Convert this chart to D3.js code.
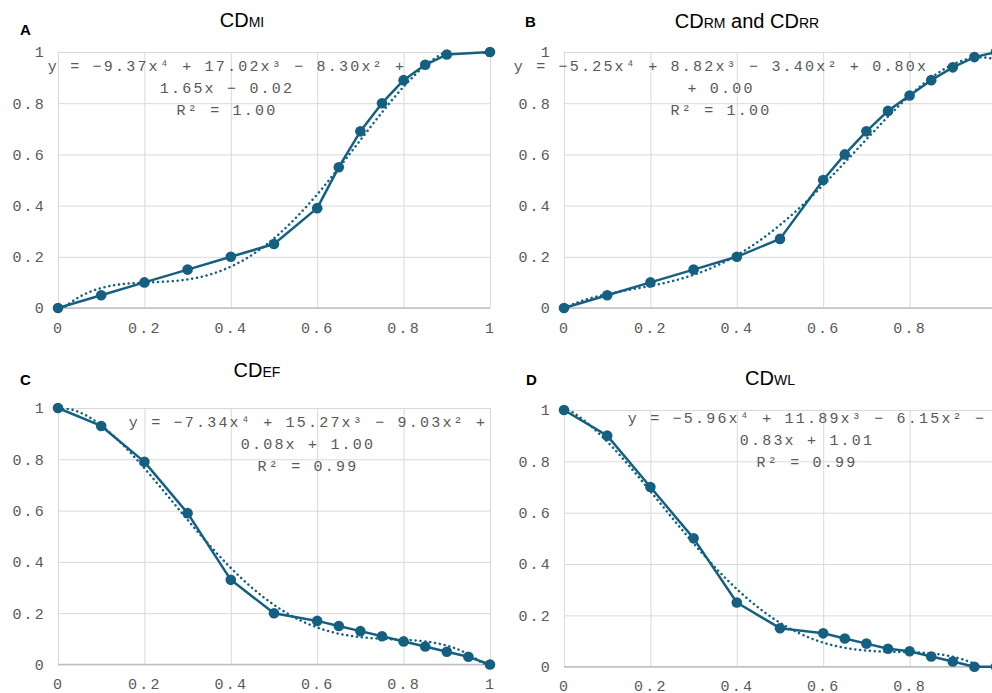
<!DOCTYPE html>
<html>
<head>
<meta charset="utf-8">
<script src="https://cdn.jsdelivr.net/npm/d3@7"></script>
<style>
    body { margin: 0; background: #fff; }
    svg { display: block; }
    .oznaka-osi { font-family: "Courier New", "Liberation Mono", monospace; font-size: 15px; letter-spacing: 2.2px; fill: #595959; }
    .jednadzba { font-family: "Courier New", "Liberation Mono", monospace; font-size: 15px; letter-spacing: 2.2px; fill: #595959; }
    .naslov { font-family: Arial, "Liberation Sans", sans-serif; font-size: 20px; fill: #000; }
    .slovo { font-family: Arial, "Liberation Sans", sans-serif; font-size: 15px; font-weight: bold; fill: #000; }
</style>
</head>
<body>
<div id="grafovi"></div>
<script>
// Podaci
const xTicks = [0, 0.2, 0.4, 0.6, 0.8, 1];
const yTicks = [0, 0.2, 0.4, 0.6, 0.8, 1];

// A - CD_MI
const xMI = [0, 0.1, 0.2, 0.3, 0.4, 0.5, 0.6, 0.65, 0.7, 0.75, 0.8, 0.85, 0.9, 1];
const yMI = [0, 0.05, 0.10, 0.15, 0.20, 0.25, 0.39, 0.55, 0.69, 0.80, 0.89, 0.95, 0.99, 1];
const koefMI = [-0.02, 1.65, -8.30, 17.02, -9.37]; // x^0 ... x^4
const jednMI = ["y = −9.37x⁴ + 17.02x³ − 8.30x² +", "1.65x − 0.02", "R² = 1.00"];

// B - CD_RM i CD_RR
const xRM = [0, 0.1, 0.2, 0.3, 0.4, 0.5, 0.6, 0.65, 0.7, 0.75, 0.8, 0.85, 0.9, 0.95, 1];
const yRM = [0, 0.05, 0.10, 0.15, 0.20, 0.27, 0.50, 0.60, 0.69, 0.77, 0.83, 0.89, 0.94, 0.98, 1];
const koefRM = [0.00, 0.80, -3.40, 8.82, -5.25];
const jednRM = ["y = −5.25x⁴ + 8.82x³ − 3.40x² + 0.80x", "+ 0.00", "R² = 1.00"];

// C - CD_EF
const xEF = [0, 0.1, 0.2, 0.3, 0.4, 0.5, 0.6, 0.65, 0.7, 0.75, 0.8, 0.85, 0.9, 0.95, 1];
const yEF = [1, 0.93, 0.79, 0.59, 0.33, 0.20, 0.17, 0.15, 0.13, 0.11, 0.09, 0.07, 0.05, 0.03, 0];
const koefEF = [1.00, 0.08, -9.03, 15.27, -7.34];
const jednEF = ["y = −7.34x⁴ + 15.27x³ − 9.03x² +", "0.08x + 1.00", "R² = 0.99"];

// D - CD_WL
const xWL = [0, 0.1, 0.2, 0.3, 0.4, 0.5, 0.6, 0.65, 0.7, 0.75, 0.8, 0.85, 0.9, 0.95, 1];
const yWL = [1, 0.90, 0.70, 0.50, 0.25, 0.15, 0.13, 0.11, 0.09, 0.07, 0.06, 0.04, 0.02, 0, 0];
const koefWL = [1.01, -0.83, -6.15, 11.89, -5.96];
const jednWL = ["y = −5.96x⁴ + 11.89x³ − 6.15x² −", "0.83x + 1.01", "R² = 0.99"];

const boja = "#156082";

// Raspored panela
const paneli = [
    { slovo: "A", slovoX: 20, slovoY: 35, naslov: [["CD", false], ["MI", true]], naslovX: 242, naslovY: 27,
      x: xMI, y: yMI, koef: koefMI, jedn: jednMI, jednX: 227, jednY: 71,
      lijevo: 58, vrh: 52, sirina: 432, visina: 256 },
    { slovo: "B", slovoX: 525, slovoY: 27, naslov: [["CD", false], ["RM", true], [" and CD", false], ["RR", true]], naslovX: 747, naslovY: 28,
      x: xRM, y: yRM, koef: koefRM, jedn: jednRM, jednX: 721, jednY: 71,
      lijevo: 564, vrh: 52, sirina: 432, visina: 256 },
    { slovo: "C", slovoX: 20, slovoY: 385, naslov: [["CD", false], ["EF", true]], naslovX: 257, naslovY: 377,
      x: xEF, y: yEF, koef: koefEF, jedn: jednEF, jednX: 308, jednY: 427,
      lijevo: 58, vrh: 408, sirina: 432, visina: 256.5 },
    { slovo: "D", slovoX: 526, slovoY: 385, naslov: [["CD", false], ["WL", true]], naslovX: 770, naslovY: 385,
      x: xWL, y: yWL, koef: koefWL, jedn: jednWL, jednX: 807, jednY: 423,
      lijevo: 564, vrh: 410, sirina: 432, visina: 256.7 },
];

const okvir = d3.select("#grafovi")
    .append("svg")
    .attr("width", 992)
    .attr("height", 693);

const crtajPanel = (p, i) => {
    const xSkala = d3.scaleLinear().domain([0, 1]).range([p.lijevo, p.lijevo + p.sirina]);
    const ySkala = d3.scaleLinear().domain([0, 1]).range([p.vrh + p.visina, p.vrh]);
    const g = okvir.append("g");

    // mreza + oznake osi
    const yOs = g.append("g")
        .attr("transform", `translate(${p.lijevo},0)`)
        .call(d3.axisLeft(ySkala).tickValues(yTicks).tickSize(-p.sirina).tickPadding(12).tickFormat(d3.format("")));
    const xOs = g.append("g")
        .attr("transform", `translate(0,${p.vrh + p.visina})`)
        .call(d3.axisBottom(xSkala).tickValues(xTicks).tickSize(-p.visina).tickPadding(14).tickFormat(d3.format("")));
    [yOs, xOs].forEach(os => {
        os.select(".domain").remove();
        os.selectAll("line").attr("stroke", "#d9d9d9").attr("stroke-width", 1);
        os.selectAll("text").attr("class", "oznaka-osi").attr("fill", null);
        os.attr("font-family", null).attr("font-size", null);
    });
    g.append("line")
        .attr("x1", p.lijevo).attr("x2", p.lijevo + p.sirina)
        .attr("y1", p.vrh + p.visina).attr("y2", p.vrh + p.visina)
        .attr("stroke", "#bfbfbf").attr("stroke-width", 1.5);

    // trend (polinom 4. reda), odrezan na podrucje grafa
    const clipId = "clip" + i;
    g.append("clipPath").attr("id", clipId)
        .append("rect")
        .attr("x", p.lijevo).attr("y", p.vrh)
        .attr("width", p.sirina).attr("height", p.visina);
    const trendX = d3.range(0, 1.0001, 0.005);
    const poly = x => p.koef.reduce((s, c, k) => s + c * Math.pow(x, k), 0);
    const podaci = p.x.map((d, k) => [d, p.y[k]]);

    const linija = d3.line().x(d => xSkala(d[0])).y(d => ySkala(d[1]));

    g.append("path")
        .datum(podaci)
        .attr("d", linija)
        .attr("fill", "none")
        .attr("stroke", boja)
        .attr("stroke-width", 2.5)
        .attr("stroke-linejoin", "round");

    g.selectAll(".tocka")
        .data(podaci)
        .join("circle")
        .attr("class", "tocka")
        .attr("cx", d => xSkala(d[0]))
        .attr("cy", d => ySkala(d[1]))
        .attr("r", 5.3)
        .attr("fill", boja);

    g.append("path")
        .datum(trendX.map(x => [x, poly(x)]))
        .attr("clip-path", `url(#${clipId})`)
        .attr("d", linija)
        .attr("fill", "none")
        .attr("stroke", boja)
        .attr("stroke-width", 2.5)
        .attr("stroke-linecap", "round")
        .attr("stroke-dasharray", "0.1 4.8");

    // jednadzba
    const jedn = g.append("text")
        .attr("class", "jednadzba")
        .attr("text-anchor", "middle");
    p.jedn.forEach((red, k) => {
        jedn.append("tspan")
            .attr("x", p.jednX)
            .attr("y", p.jednY + k * 22)
            .text(red);
    });

    // naslov
    const naslov = g.append("text")
        .attr("class", "naslov")
        .attr("x", p.naslovX)
        .attr("y", p.naslovY)
        .attr("text-anchor", "middle");
    p.naslov.forEach(([t, sub]) => {
        naslov.append("tspan")
            .attr("font-size", sub ? "14px" : null)
            .text(t);
    });

    g.append("text")
        .attr("class", "slovo")
        .attr("x", p.slovoX)
        .attr("y", p.slovoY)
        .text(p.slovo);
};

paneli.forEach(crtajPanel);
</script>
</body>
</html>
